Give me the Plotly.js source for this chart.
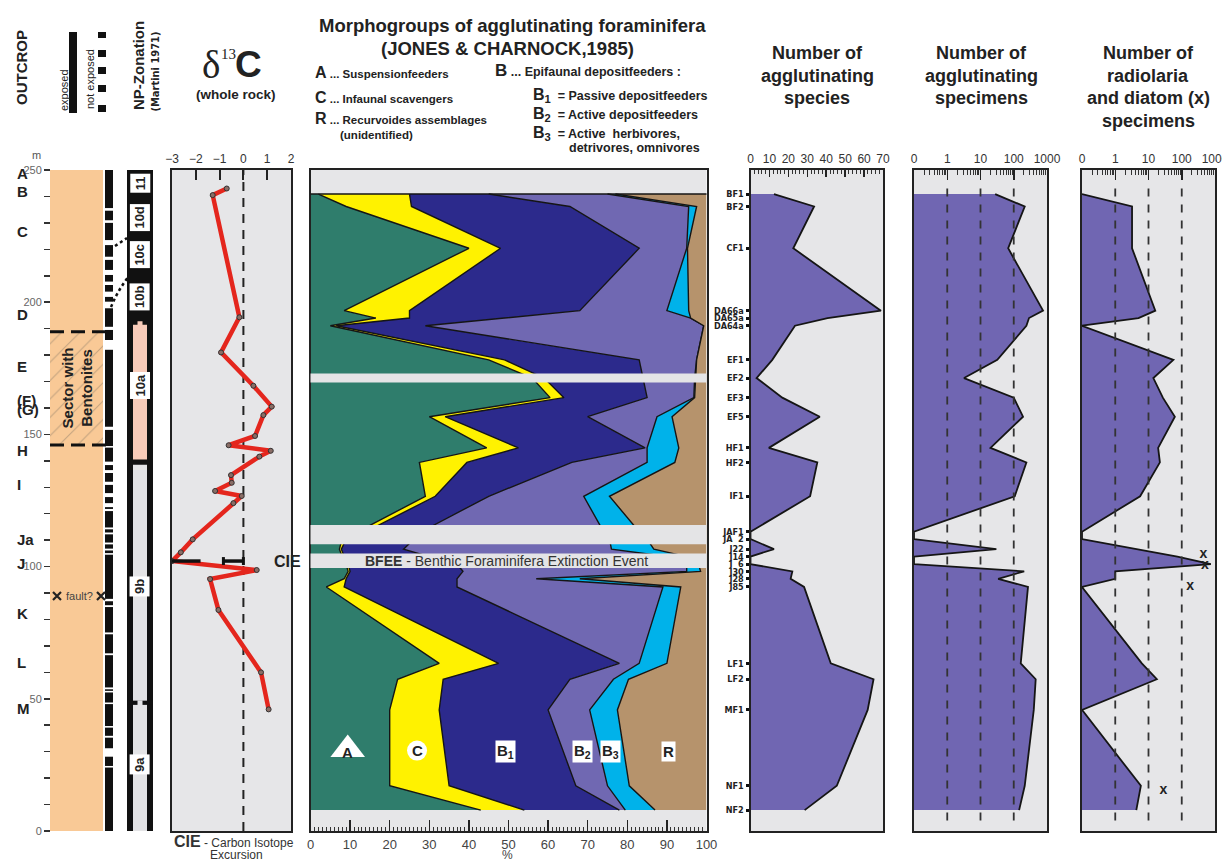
<!DOCTYPE html>
<html><head><meta charset="utf-8">
<script src="https://cdn.plot.ly/plotly-3.0.1.min.js"></script>
<style>html,body{margin:0;padding:0;background:#fff}#chart{width:1222px;height:862px}</style>
</head><body><div id="chart"></div>
<script>
// ---------------- DATA ----------------
const sampleNames = ['BF1','BF2','CF1','DA66a','DA65a','DA64a','EF1','EF2','EF3','EF5','HF1','HF2','IF1','JAF1','JA  2','J22','J14','J  6','J30','J28','J85','LF1','LF2','MF1','NF1','NF2'];
const sampleDepth = [240.9,236.2,220.4,196.8,194.0,191.1,178.2,171.3,163.9,156.7,144.9,139.4,126.6,113.2,110.4,106.6,103.8,100.9,98.2,95.4,92.3,63.4,57.4,45.8,17.1,7.9];

// morphogroups (% of assemblage); R = remainder
const morphA  = [2,9,40,8.5,16.5,5,45,56,60.5,30,44.5,27.5,29,12,8,7.3,8,9,9.5,8.5,4,32.5,22,20,20,43];
const morphC  = [23,16.5,8,16.5,8.5,1.5,4,3,3.5,4,8,12,2.5,2,1,0.5,0.5,0.5,0.5,0.5,4.5,15,11.5,12.5,15,11];
const morphB1 = [20,40,35,43,24,22.5,34,25,21,36,32,26.5,13.5,14,17,15.7,21.5,27.5,28.5,28,28.5,30.5,32,27.5,32,24];
const morphB2 = [30,30,12,22,47,70.3,14.5,13,11.8,17.5,0.5,19,24,46,49.5,52.5,60,58,56.5,20,52,5,11,10.5,8,1.5];
const morphB3 = [2,2,0.2,5.5,0,0,0,0.2,0.2,3.8,8,7,6.5,9,9.5,10.7,5,3,3.5,11,4.5,7,3.8,7,5.5,7.5];

// number of agglutinating species
const speciesCount = [12.4,33.6,22.6,68.9,40.7,23.5,11.5,3.2,16.8,36.6,9.7,35.3,31.5,0,0,12.4,0,0,22.1,21.2,28.3,42.4,65,61.9,45.6,28.6];
// number of agglutinating specimens
const specimenCount = [27.6,214,68,760,288,240,32,3.2,100,190,20,240,107,0,0,30,0,0,206,34,268,162,457,400,214,145];
// number of radiolaria
const radiolariaCount = [0,3.2,3.2,16,5,0,56,14,27,62,19.5,22,5.6,0,0,4.2,74,750,1,1,0,6.3,17.8,0,5.9,4.3];
// diatoms (x)
const diatomDepth = [104.4,100.6,92.3,15.5];
const diatomCount = [450,500,178,28];

// delta 13C whole rock
const d13cDepth = [243.0,240.5,194.3,181.0,168.4,160.5,157.3,149.4,145.9,143.8,141.6,134.6,131.7,128.6,126.7,124.0,110.3,105.4,102.1,98.7,95.3,83.6,60.0,46.0];
const d13cValue = [-0.70,-1.29,-0.17,-0.94,0.42,1.19,0.84,0.49,-0.62,1.15,0.67,-0.52,-0.49,-1.19,-0.07,-0.42,-2.13,-2.63,-3.0,0.56,-1.40,-1.05,0.74,1.06];
const cieDepth = 102.1;

// outcrop: not exposed intervals [top, bottom] in m
const notExposed = [[235.6,234.6],[231,230],[223.5,221.6],[217.2,216],[212.2,210.3],[207.8,206.5],[204,202],[200.2,197.7],[190.7,189.5],[185.7,182],[152.9,151.7],[145.6,145],[139.7,138.4],[136.5,135.4],[132.1,130.9],[127.8,126.3],[124,122.5],[121.8,121],[114.8,114.1],[112.9,112.2],[109.1,108.4],[106.8,106.1],[105.1,104.5],[87.8,86.9],[85.4,84.7],[75.1,74.4],[67.2,66.5],[54.3,53.6],[53,52.4],[48.6,48],[39.7,39.1],[36,35.3],[31.3,28.1],[24.6,24]];
const bentoniteTop = 188.8, bentoniteBottom = 146.0;
const faultDepth = 88.9;

// outcrop letters
const outcropLetters = ['A','B','C','D','E','(F)','(G)','H','I','Ja','J','K','L','M'];
const outcropLetterDepth = [248.7,241.8,226.7,195.2,175.6,162.9,159.3,144.1,130.9,110.3,101,82.3,63.7,46.4];

// NP zonation
const npLabels = ['11','10d','10c','10b','10a','9b','9a'];
const npLabelDepth = [245,232,218,202,168.5,92.3,25];
const np10aTop = 191.5, np10aBottom = 140.5, np9Top = 138.5, np9abBoundary = 48.5;

// no-data bands in morphogroup column [top, bottom]
const noDataBands = [[173.0,169.6],[115.7,108.5],[105.0,99.5]];
const bfeeDepth = 102.3;

// ---------------- LAYOUT HELPERS ----------------
const W = 1222, H = 862;
const px = v => v / W;
const py = v => 1 - v / H;
const yDom = [py(831), py(170)];
const FONT = 'Liberation Sans, Arial, Helvetica, sans-serif';
const NARROW = 'Liberation Sans Narrow, Arial Narrow, DejaVu Sans Condensed, Liberation Sans, sans-serif';
const SERIF = 'Liberation Serif, DejaVu Serif, Times New Roman, serif';
const PANEL_BG = '#e6e6e8';
const ORANGE = '#f9c996';
const PURPLE = '#7066b2';
const C_A = '#2f7d6c', C_C = '#fff200', C_B1 = '#2c2a8c', C_B2 = '#7068b2', C_B3 = '#00b2ea', C_R = '#b6936c';

function ann(x, y, text, size, o = {}) {
  const f = Object.assign({family: FONT, size: size, color: '#222'}, o.font || {});
  const a = Object.assign({xref: 'paper', yref: 'paper', x: px(x), y: py(y), text: text, showarrow: false,
    xanchor: 'center', yanchor: 'middle'}, o);
  a.font = f;
  return a;
}

const shapes = [];
const annotations = [];
const traces = [];

// panel backgrounds
['x2','x3','x4','x5','x6'].forEach(xa => {
  const ya = 'y' + xa.slice(1);
  shapes.push({type: 'rect', xref: xa + ' domain', yref: ya + ' domain', x0: 0, x1: 1, y0: 0, y1: 1,
    fillcolor: PANEL_BG, line: {width: 0}, layer: 'below'});
});

// ---------------- OUTCROP COLUMN ----------------
shapes.push({type: 'rect', xref: 'x', yref: 'y', x0: 50, x1: 103, y0: 0, y1: 250, fillcolor: ORANGE, line: {width: 0}, layer: 'below'});
shapes.push({type: 'rect', xref: 'x', yref: 'y', x0: 105, x1: 113, y0: 0, y1: 250, fillcolor: '#111', line: {width: 0}, layer: 'below'});
notExposed.forEach(g => shapes.push({type: 'rect', xref: 'x', yref: 'y', x0: 104, x1: 114, y0: g[1], y1: g[0],
  fillcolor: '#fff', line: {width: 0}, layer: 'below'}));

// bentonite hatched sector
traces.push({type: 'bar', xaxis: 'x', yaxis: 'y', x: [76.5], width: [53], base: [bentoniteBottom], y: [bentoniteTop - bentoniteBottom],
  marker: {color: ORANGE, line: {width: 0}, pattern: {shape: '/', fillmode: 'overlay', fgcolor: '#8c7a66', size: 13, solidity: 0.08}},
  hoverinfo: 'skip'});
[bentoniteTop, bentoniteBottom].forEach(d => shapes.push({type: 'line', xref: 'x', yref: 'y', x0: 50, x1: 113, y0: d, y1: d,
  line: {color: '#111', width: 3, dash: '14px,7px'}}));
annotations.push({xref: 'x', yref: 'y', x: 77, y: (bentoniteTop + bentoniteBottom) / 2, text: 'Sector with<br>Bentonites', textangle: -90,
  showarrow: false, font: {family: FONT, size: 15, weight: 'bold', color: '#222'}});

// fault
traces.push({type: 'scatter', mode: 'markers', xaxis: 'x', yaxis: 'y', x: [57, 101], y: [faultDepth, faultDepth],
  marker: {symbol: 'x-thin-open', size: 8, color: '#222', line: {width: 2.2, color: '#222'}}, hoverinfo: 'skip'});
annotations.push({xref: 'x', yref: 'y', x: 79, y: faultDepth, text: 'fault?', showarrow: false,
  font: {family: FONT, size: 11, color: '#444'}});

// letters
outcropLetters.forEach((t, i) => annotations.push({xref: 'paper', yref: 'y', x: px(15), y: outcropLetterDepth[i], text: t,
  showarrow: false, font: {family: FONT, size: 15, weight: 'bold', color: '#222'}}));
annotations.push(ann(36, 155, 'm', 11, {font: {color: '#555'}}));

// ---------------- NP ZONATION ----------------
shapes.push({type: 'rect', xref: 'x', yref: 'y', x0: 127, x1: 153, y0: 0, y1: 250.8, fillcolor: '#111', line: {width: 0}, layer: 'below'});
shapes.push({type: 'rect', xref: 'x', yref: 'y', x0: 133, x1: 147, y0: np10aBottom, y1: np10aTop, fillcolor: '#f8cbb9', line: {width: 0}, layer: 'below'});
shapes.push({type: 'rect', xref: 'x', yref: 'y', x0: 133, x1: 147, y0: 0, y1: np9Top, fillcolor: '#e4e4e6', line: {width: 0}, layer: 'below'});
shapes.push({type: 'rect', xref: 'x', yref: 'y', x0: 127, x1: 153, y0: np9abBoundary - 0.8, y1: np9abBoundary + 0.8, fillcolor: '#111', line: {width: 0}, layer: 'below'});
shapes.push({type: 'rect', xref: 'x', yref: 'y', x0: 137.5, x1: 142.5, y0: np9abBoundary - 0.9, y1: np9abBoundary + 0.9, fillcolor: '#e4e4e6', line: {width: 0}, layer: 'below'});
shapes.push({type: 'rect', xref: 'x', yref: 'y', x0: 137.5, x1: 142.5, y0: np10aTop - 0.2, y1: np10aTop + 1.3, fillcolor: '#f8cbb9', line: {width: 0}, layer: 'below'});
npLabels.forEach((t, i) => annotations.push({xref: 'x', yref: 'y', x: 140, y: npLabelDepth[i], text: t, textangle: -90, showarrow: false,
  bgcolor: '#fff', borderpad: 2, font: {family: FONT, size: 13, weight: 'bold', color: '#222'}}));

// dotted connectors
shapes.push({type: 'path', xref: 'paper', yref: 'paper', path: `M ${px(111)} ${py(307)} Q ${px(118)} ${py(290)} ${px(129)} ${py(276)}`,
  line: {color: '#111', width: 2.5, dash: 'dot'}});
shapes.push({type: 'line', xref: 'paper', yref: 'paper', x0: px(115), y0: py(246), x1: px(127), y1: py(238),
  line: {color: '#111', width: 2.5, dash: 'dot'}});

// ---------------- HEADER (left) ----------------
annotations.push(ann(21, 68, 'OUTCROP', 15, {textangle: -90, font: {weight: 'bold'}}));
shapes.push({type: 'rect', xref: 'paper', yref: 'paper', x0: px(69), x1: px(77), y0: py(113), y1: py(32), fillcolor: '#111', line: {width: 0}});
annotations.push(ann(64, 90, 'exposed', 11, {textangle: -90}));
annotations.push(ann(90, 79, 'not exposed', 11, {textangle: -90}));
[[32,38],[50,57],[67,74],[85,92],[105,112]].forEach(s => shapes.push({type: 'rect', xref: 'paper', yref: 'paper',
  x0: px(98), x1: px(106), y0: py(s[1]), y1: py(s[0]), fillcolor: '#111', line: {width: 0}}));
annotations.push(ann(139, 66, 'NP-Zonation', 15, {textangle: -90, font: {weight: 'bold'}}));
annotations.push(ann(154.5, 72, '(Martini 1971)', 11, {textangle: -90, font: {family: NARROW, weight: 'bold'}}));
annotations.push(ann(211, 64, 'δ', 39, {font: {family: SERIF}}));
annotations.push(ann(228, 54, '13', 15, {font: {family: SERIF}}));
annotations.push(ann(248.5, 64, 'C', 37, {font: {weight: 'bold'}}));
annotations.push(ann(236, 94, '(whole rock)', 13.5, {font: {weight: 'bold'}}));

// ---------------- δ13C ----------------
shapes.push({type: 'line', xref: 'x2', yref: 'y2 domain', x0: 0, x1: 0, y0: 0, y1: 1,
  line: {color: '#222', width: 2, dash: '9px,7px'}, layer: 'below'});
traces.push({type: 'scatter', mode: 'lines+markers', xaxis: 'x2', yaxis: 'y2', x: d13cValue, y: d13cDepth,
  line: {color: '#e4261d', width: 4.5}, marker: {size: 5, color: '#8a6d66', line: {width: 1, color: '#333'}}, hoverinfo: 'skip'});
shapes.push({type: 'line', xref: 'x2', yref: 'y2', x0: -3, x1: -1.8, y0: cieDepth, y1: cieDepth, line: {color: '#111', width: 3.5}});
shapes.push({type: 'line', xref: 'x2', yref: 'y2', x0: -0.84, x1: 0, y0: cieDepth, y1: cieDepth, line: {color: '#111', width: 3.5}});
[-0.84, 0].forEach(v => shapes.push({type: 'line', xref: 'x2', yref: 'y2', x0: v, x1: v, y0: cieDepth - 1.5, y1: cieDepth + 1.5, line: {color: '#111', width: 3}}));
annotations.push({xref: 'paper', yref: 'y2', x: px(272), y: cieDepth, text: 'CIE', showarrow: false, font: {family: FONT, size: 16, weight: 'bold', color: '#222'}});
annotations.push(ann(172, 841, '<span style="font-size:16px;font-weight:bold">CIE</span> - Carbon Isotope', 12, {xanchor: 'left', font: {color: '#333'}}));
annotations.push(ann(236, 855, 'Excursion', 12, {font: {color: '#333'}}));

// ---------------- MORPHOGROUPS ----------------
const cum = [];
let run = sampleDepth.map(() => 0);
[morphA, morphC, morphB1, morphB2, morphB3].forEach(arr => { run = run.map((v, i) => v + arr[i]); cum.push(run.slice()); });
cum.push(sampleDepth.map(() => 100));
const morphColors = [C_A, C_C, C_B1, C_B2, C_B3, C_R];
cum.forEach((c, k) => traces.push({type: 'scatter', mode: 'lines', xaxis: 'x3', yaxis: 'y3', x: c, y: sampleDepth,
  fill: k === 0 ? 'tozerox' : 'tonextx', fillcolor: morphColors[k], line: {color: '#151515', width: k === 5 ? 0 : 1.4}, hoverinfo: 'skip'}));
shapes.push({type: 'line', xref: 'x3 domain', yref: 'y3', x0: 0, x1: 1, y0: sampleDepth[0], y1: sampleDepth[0], line: {color: '#151515', width: 1.6}});
noDataBands.forEach(b => shapes.push({type: 'rect', xref: 'x3 domain', yref: 'y3', x0: 0, x1: 1, y0: b[1], y1: b[0],
  fillcolor: '#e4e4e6', line: {width: 0}}));
annotations.push({xref: 'paper', yref: 'y3', x: px(506), y: bfeeDepth, text: '<b>BFEE</b> - Benthic Foraminifera Extinction Event',
  showarrow: false, font: {family: FONT, size: 14, color: '#333'}});
// group labels
traces.push({type: 'scatter', mode: 'markers', xaxis: 'x3', yaxis: 'y3', x: [9.4], y: [30.8], opacity: 1,
  marker: {symbol: 'triangle-up', size: 30, color: '#ffffff', opacity: 1, line: {width: 0}}, hoverinfo: 'skip'});
traces.push({type: 'scatter', mode: 'markers', xaxis: 'x3', yaxis: 'y3', x: [26.9], y: [30.4], opacity: 1,
  marker: {symbol: 'circle', size: 20, color: '#ffffff', opacity: 1, line: {width: 0}}, hoverinfo: 'skip'});
[['A', 9.4, 29.6, false], ['C', 26.9, 30.4, false], ['B<sub>1</sub>', 49.2, 30.0, true], ['B<sub>2</sub>', 68.7, 30.0, true],
 ['B<sub>3</sub>', 75.7, 30.0, true], ['R', 90.5, 30.0, true]].forEach(l => annotations.push({xref: 'x3', yref: 'y3', x: l[1], y: l[2],
  text: l[0], showarrow: false, bgcolor: l[3] ? '#fff' : 'rgba(0,0,0,0)', borderpad: 1,
  font: {family: FONT, size: 15, weight: 'bold', color: '#222'}}));

// header
annotations.push(ann(512, 25, 'Morphogroups of agglutinating foraminifera', 18.5, {font: {weight: 'bold'}}));
annotations.push(ann(508, 48, '(JONES & CHARNOCK,1985)', 18.5, {font: {weight: 'bold'}}));
const LB = 'font-size:16px';
annotations.push(ann(313, 72, `<span style="${LB}">A</span> ... Suspensionfeeders`, 11.5, {xanchor: 'left', font: {weight: 'bold'}}));
annotations.push(ann(313, 98, `<span style="${LB}">C</span> ... Infaunal scavengers`, 11.5, {xanchor: 'left', font: {weight: 'bold'}}));
annotations.push(ann(313, 119, `<span style="${LB}">R</span> ... Recurvoides assemblages`, 11.5, {xanchor: 'left', font: {weight: 'bold'}}));
annotations.push(ann(338, 135, '(unidentified)', 11.5, {xanchor: 'left', font: {weight: 'bold'}}));
annotations.push(ann(493, 71, `<span style="font-size:17px">B</span> ... Epifaunal depositfeeders :`, 12.5, {xanchor: 'left', font: {weight: 'bold'}}));
annotations.push(ann(531, 95, `<span style="${LB}">B<sub>1</sub></span>  = Passive depositfeeders`, 12.5, {xanchor: 'left', font: {weight: 'bold'}}));
annotations.push(ann(531, 114, `<span style="${LB}">B<sub>2</sub></span>  = Active depositfeeders`, 12.5, {xanchor: 'left', font: {weight: 'bold'}}));
annotations.push(ann(531, 133, `<span style="${LB}">B<sub>3</sub></span>  = Active  herbivores,`, 12.5, {xanchor: 'left', font: {weight: 'bold'}}));
annotations.push(ann(567, 148, 'detrivores, omnivores', 12.5, {xanchor: 'left', font: {weight: 'bold'}}));
annotations.push(ann(508, 855, '%', 12, {font: {color: '#444'}}));

// ---------------- SPECIES ----------------
traces.push({type: 'scatter', mode: 'lines', xaxis: 'x4', yaxis: 'y4', x: speciesCount, y: sampleDepth, fill: 'tozerox',
  fillcolor: PURPLE, line: {color: '#151515', width: 1.8}, hoverinfo: 'skip'});

// ---------------- SPECIMENS / RADIOLARIA (log, 0 drawn at the "0" tick) ----------------
const LOG_ZERO = 0.1;
const toLog = arr => arr.map(v => (v > 0 ? v : LOG_ZERO));
traces.push({type: 'scatter', mode: 'lines', xaxis: 'x5', yaxis: 'y5', x: toLog(specimenCount), y: sampleDepth, fill: 'tozerox',
  fillcolor: PURPLE, line: {color: '#151515', width: 1.8}, hoverinfo: 'skip'});
traces.push({type: 'scatter', mode: 'lines', xaxis: 'x6', yaxis: 'y6', x: toLog(radiolariaCount), y: sampleDepth, fill: 'tozerox',
  fillcolor: PURPLE, line: {color: '#151515', width: 1.8}, hoverinfo: 'skip'});
traces.push({type: 'scatter', mode: 'text', xaxis: 'x6', yaxis: 'y6', x: diatomCount, y: diatomDepth, text: diatomDepth.map(() => 'x'),
  textfont: {family: FONT, size: 14, weight: 'bold', color: '#222'}, hoverinfo: 'skip'});
['x5', 'x6'].forEach(xa => [1, 10, 100].forEach(v => shapes.push({type: 'line', xref: xa, yref: 'y' + xa.slice(1), x0: v, x1: v,
  y0: 4, y1: 245, line: {color: '#333', width: 1.8, dash: '8px,8px'}})));

// right headers
[['Number of', 'agglutinating', 'species', 817], ['Number of', 'agglutinating', 'specimens', 981],
 ['Number of', 'radiolaria', 'and diatom (x)', 1148]].forEach(h => {
  [53, 76, 98].forEach((y, i) => annotations.push(ann(h[3], y, h[i], 18, {font: {weight: 'bold'}})));
});
annotations.push(ann(1148, 121, 'specimens', 18, {font: {weight: 'bold'}}));

// ---------------- AXES ----------------
const minorLog = [];
[0.1, 1, 10, 100].forEach(d => { for (let k = 2; k <= 9; k++) minorLog.push(d * k); });
const frameY = (anchor) => ({domain: yDom, range: [0, 250], anchor: anchor, showline: true, mirror: true, linewidth: 2,
  linecolor: '#222', showticklabels: false, ticks: '', showgrid: false, zeroline: false, fixedrange: true});
const frameX = (dom, extra) => Object.assign({domain: [px(dom[0]), px(dom[1])], showline: true, mirror: true, linewidth: 2,
  linecolor: '#222', showgrid: false, zeroline: false, fixedrange: true, ticks: 'inside', tickcolor: '#222',
  tickfont: {family: FONT, size: 12, color: '#333'}}, extra);

const layout = {
  width: W, height: H, margin: {l: 0, r: 0, t: 0, b: 0},
  paper_bgcolor: '#fff', plot_bgcolor: 'rgba(0,0,0,0)', showlegend: false,
  font: {family: FONT, color: '#222'}, barmode: 'overlay',
  xaxis: {domain: [px(40), px(160)], range: [40, 160], visible: false, anchor: 'y', fixedrange: true},
  yaxis: {domain: yDom, range: [0, 250], anchor: 'free', position: px(50), showline: false, showgrid: false, zeroline: false,
    tickmode: 'array', tickvals: [0, 50, 100, 150, 200, 250], ticks: 'outside', ticklen: 6, tickwidth: 1.5, tickcolor: '#333',
    minor: {dtick: 10, tick0: 0, ticks: 'outside', ticklen: 6, tickwidth: 1.5, tickcolor: '#333', showgrid: false},
    tickfont: {family: FONT, size: 11, color: '#666'}, fixedrange: true},
  xaxis2: frameX([172, 291], {anchor: 'y2', side: 'top', range: [-3, 2], tickmode: 'array', tickvals: [-3, -2, -1, 0, 1, 2],
    ticklen: 10, tickwidth: 2}),
  yaxis2: frameY('x2'),
  xaxis3: frameX([310.5, 706.5], {anchor: 'y3', side: 'bottom', range: [0, 100], tickmode: 'linear', tick0: 0, dtick: 10,
    ticklen: 11, tickwidth: 1.5, minor: {dtick: 1, ticks: 'inside', ticklen: 4, tickwidth: 1, tickcolor: '#333'},
    tickfont: {family: FONT, size: 13, color: '#444'}}),
  yaxis3: frameY('x3'),
  xaxis4: frameX([750.5, 883], {anchor: 'y4', side: 'top', range: [0, 70], tickmode: 'linear', tick0: 0, dtick: 10,
    ticklen: 7, tickwidth: 1.5, minor: {dtick: 2, ticks: 'inside', ticklen: 4, tickwidth: 1, tickcolor: '#333'}}),
  yaxis4: Object.assign(frameY('x4'), {showticklabels: true, tickmode: 'array', tickvals: sampleDepth, ticktext: sampleNames,
    ticks: 'outside', ticklen: 3, tickwidth: 3, tickcolor: '#111',
    tickfont: {family: NARROW, size: 9, weight: 'bold', color: '#222'}}),
  xaxis5: frameX([914, 1047], {anchor: 'y5', side: 'top', type: 'log', range: [-1, 3], tickmode: 'array',
    tickvals: [0.1, 1, 10, 100, 1000], ticktext: ['0', '1', '10', '100', '1000'], ticklen: 10, tickwidth: 1.5,
    minor: {tickmode: 'array', tickvals: minorLog, ticks: 'inside', ticklen: 5, tickwidth: 1, tickcolor: '#333'}}),
  yaxis5: frameY('x5'),
  xaxis6: frameX([1082, 1215], {anchor: 'y6', side: 'top', type: 'log', range: [-1, 3], tickmode: 'array',
    tickvals: [0.1, 1, 10, 100, 1000], ticktext: ['0', '1', '10', '100', '1000'], ticklen: 10, tickwidth: 1.5,
    ticklabeloverflow: 'allow',
    minor: {tickmode: 'array', tickvals: minorLog, ticks: 'inside', ticklen: 5, tickwidth: 1, tickcolor: '#333'}}),
  yaxis6: frameY('x6'),
  shapes: shapes, annotations: annotations
};

Plotly.newPlot('chart', traces, layout, {staticPlot: true, displayModeBar: false});
</script></body></html>
